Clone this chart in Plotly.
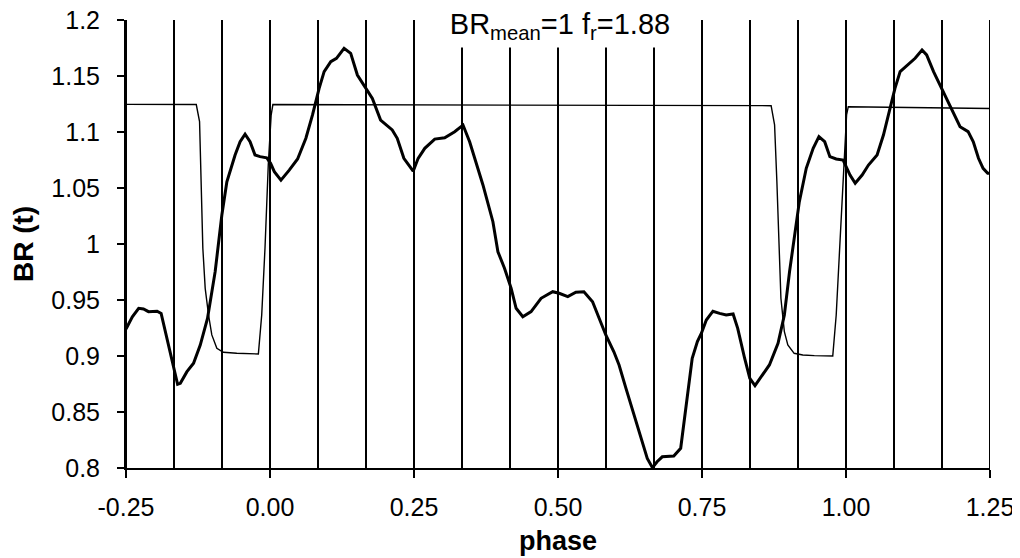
import plotly.graph_objects as go

# ---- data ----
phase_br = [-0.25, -0.239, -0.228, -0.2196, -0.211, -0.196, -0.189, -0.1787, -0.1672, -0.1604,
            -0.1557, -0.1442, -0.1327, -0.1211, -0.1085, -0.0952, -0.0836, -0.0749, -0.0606, -0.0519,
            -0.0433, -0.0346, -0.026, -0.0173, -0.0058, 0.001, 0.0075, 0.019, 0.0334, 0.0479,
            0.0623, 0.0738, 0.0853, 0.094, 0.1055, 0.1154, 0.1286, 0.1401, 0.1517, 0.1661,
            0.1777, 0.192, 0.2122, 0.2209, 0.2324, 0.2486, 0.2572, 0.2687, 0.286, 0.3033,
            0.3206, 0.3351, 0.3466, 0.3697, 0.387, 0.3957, 0.4071, 0.4187, 0.4273, 0.4389,
            0.4533, 0.4706, 0.4908, 0.502, 0.517, 0.531, 0.545, 0.56, 0.571, 0.583,
            0.597, 0.606, 0.618, 0.632, 0.644, 0.655, 0.664, 0.672, 0.681, 0.701,
            0.713, 0.724, 0.733, 0.742, 0.749, 0.7575, 0.769, 0.7805, 0.792, 0.804,
            0.812, 0.824, 0.833, 0.842, 0.853, 0.867, 0.882, 0.893, 0.902, 0.911,
            0.919, 0.931, 0.943, 0.953, 0.963, 0.972, 0.983, 0.995, 1.001, 1.007,
            1.016, 1.028, 1.039, 1.054, 1.065, 1.077, 1.085, 1.094, 1.108, 1.12,
            1.132, 1.14, 1.152, 1.166, 1.181, 1.198, 1.212, 1.221, 1.23, 1.238,
            1.246, 1.25]
br_values = [0.924, 0.935, 0.9426, 0.942, 0.9396, 0.940, 0.938, 0.9158, 0.889, 0.8747,
             0.8756, 0.886, 0.8935, 0.9098, 0.9336, 0.9753, 1.0259, 1.0556, 1.0795, 1.0913,
             1.098, 1.0913, 1.0795, 1.078, 1.077, 1.072, 1.0646, 1.057, 1.066, 1.0759,
             1.0944, 1.1152, 1.139, 1.1539, 1.1628, 1.1658, 1.1747, 1.1702, 1.1509, 1.139,
             1.130, 1.1107, 1.1018, 1.0944, 1.0765, 1.065, 1.0765, 1.0854, 1.0937, 1.0949,
             1.1003, 1.1062, 1.0913, 1.0527, 1.0199, 0.9931, 0.9783, 0.9604, 0.9426, 0.9351,
             0.9396, 0.9515, 0.9574, 0.956, 0.953, 0.9569, 0.9574, 0.9485, 0.9351, 0.9188,
             0.9038, 0.892, 0.8711, 0.8473, 0.8265, 0.8086, 0.8003, 0.8056, 0.810, 0.8107,
             0.8176, 0.8622, 0.898, 0.9128, 0.9203, 0.9321, 0.940, 0.9381, 0.9366, 0.9375,
             0.9247, 0.898, 0.880, 0.8735, 0.8815, 0.892, 0.9113, 0.9366, 0.9753, 1.008,
             1.0378, 1.0676, 1.0854, 1.0958, 1.0913, 1.078, 1.0759, 1.075, 1.069, 1.0616,
             1.0542, 1.0616, 1.0705, 1.0795, 1.0973, 1.1212, 1.139, 1.1539, 1.1604, 1.1658,
             1.1732, 1.1688, 1.1539, 1.139, 1.1226, 1.1047, 1.1003, 1.0913, 1.0765, 1.0676,
             1.0631, 1.0631]

phase_square = [-0.25, -0.128, -0.1223, -0.120, -0.1166, -0.1125, -0.1067, -0.101, -0.0923, -0.0808,
                -0.0577, -0.0202, -0.0144, -0.0087, -0.003, 0.002, 0.005, 0.87, 0.876, 0.880,
                0.8835, 0.887, 0.893, 0.899, 0.910, 0.925, 0.945, 0.977, 0.983, 0.989,
                0.995, 1.001, 1.004, 1.25]
square_values = [1.1247, 1.1245, 1.1092, 1.0556, 0.9962, 0.9604, 0.9366, 0.9188, 0.9069, 0.9033,
                 0.9024, 0.9018, 0.9366, 0.9962, 1.0705, 1.115, 1.1245, 1.1235, 1.1063, 1.0556,
                 0.996, 0.9515, 0.9217, 0.9098, 0.9024, 0.9009, 0.9003, 0.900, 0.9366, 0.996,
                 1.0556, 1.1152, 1.1226, 1.121]

# vertical phase markers every 1/12 of a period
marker_phases = [-3/12, -2/12, -1/12, 0/12, 1/12, 2/12, 3/12, 4/12, 5/12, 6/12,
                 7/12, 8/12, 9/12, 10/12, 11/12, 12/12, 13/12, 14/12, 15/12]

x_tick_vals = [-0.25, 0.0, 0.25, 0.5, 0.75, 1.0, 1.25]
x_tick_text = ["-0.25", "0.00", "0.25", "0.50", "0.75", "1.00", "1.25"]
y_tick_vals = [0.8, 0.85, 0.9, 0.95, 1.0, 1.05, 1.1, 1.15, 1.2]
y_tick_text = ["0.8", "0.85", "0.9", "0.95", "1", "1.05", "1.1", "1.15", "1.2"]
x_range = [-0.25, 1.25]
y_range = [0.8, 1.2]

title_text = "BR<sub>mean</sub>=1 f<sub>r</sub>=1.88"

FONT = "Liberation Sans, Arial, Helvetica, sans-serif"

# build the vertical marker segments (one trace, gaps between segments)
vx, vy = [], []
for p in marker_phases:
    vx += [p, p, None]
    vy += [y_range[0], y_range[1], None]

fig = go.Figure()
fig.add_trace(go.Scatter(x=vx, y=vy, mode="lines", line=dict(color="black", width=2),
                         showlegend=False, hoverinfo="skip", cliponaxis=False))
fig.add_trace(go.Scatter(x=phase_square, y=square_values, mode="lines",
                         line=dict(color="black", width=1.4), showlegend=False))
fig.add_trace(go.Scatter(x=phase_br, y=br_values, mode="lines",
                         line=dict(color="black", width=3), showlegend=False))

fig.update_layout(
    width=1020, height=558,
    margin=dict(l=118, r=38, t=12, b=98, pad=0),
    paper_bgcolor="white", plot_bgcolor="white",
    font=dict(family=FONT, color="black", size=25),
    showlegend=False,
)

fig.update_xaxes(
    range=x_range, tickmode="array", tickvals=x_tick_vals, ticktext=x_tick_text,
    automargin=False, ticklabeloverflow="allow",
    showline=True, linecolor="black", linewidth=2,
    ticks="outside", ticklen=8, tickwidth=2, tickcolor="black",
    ticklabelstandoff=8,
    showgrid=False, zeroline=False,
    tickfont=dict(size=25),
    title=dict(text="<b>phase</b>", font=dict(size=27), standoff=11),
)
fig.update_yaxes(
    range=y_range, tickmode="array", tickvals=y_tick_vals, ticktext=y_tick_text,
    automargin=False, ticklabeloverflow="allow",
    showline=True, linecolor="black", linewidth=2,
    ticks="outside", ticklen=7, tickwidth=2, tickcolor="black",
    ticklabelstandoff=12,
    showgrid=False, zeroline=False,
    tickfont=dict(size=25),
    title=dict(text="<b>BR (t)</b>", font=dict(size=28), standoff=16),
)

fig.add_annotation(
    text=title_text, xref="paper", yref="paper", x=0.5023, y=0.9833,
    xanchor="center", yanchor="middle", valign="top", showarrow=False,
    width=236, height=39, bgcolor="white", borderpad=0,
    font=dict(family=FONT, size=29, color="black"),
)

fig.write_html("out.html")
